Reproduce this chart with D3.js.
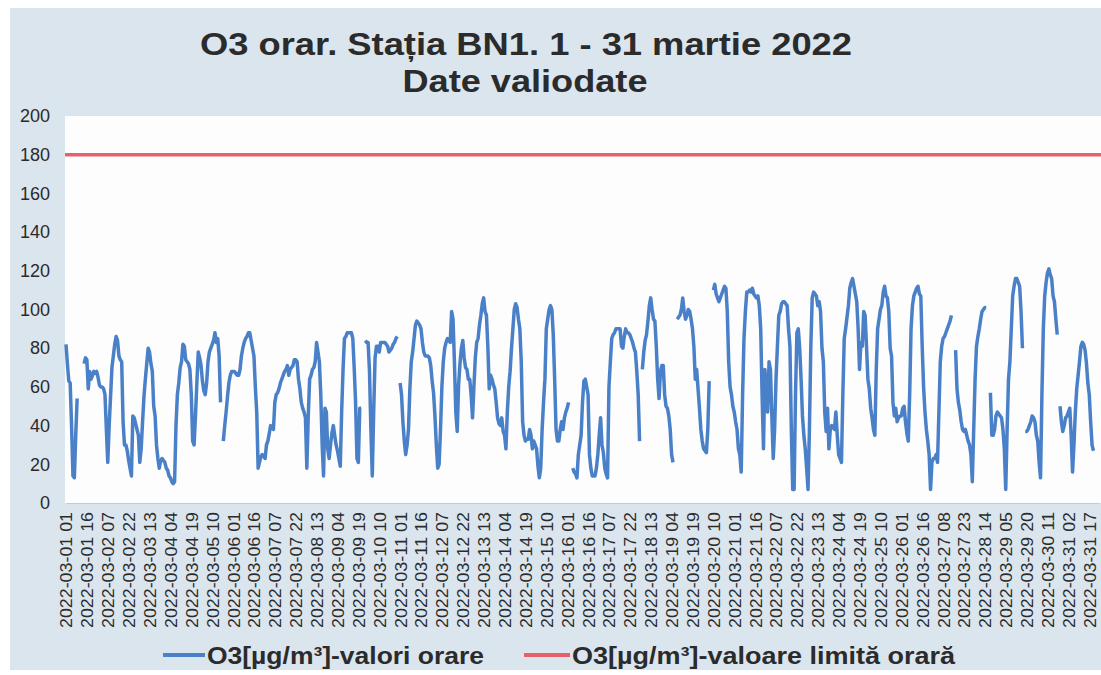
<!DOCTYPE html>
<html>
<head>
<meta charset="utf-8">
<script src="https://cdn.jsdelivr.net/npm/d3@7"></script>
<style>
  body { margin: 0; background: #fff; }
  svg { display: block; font-family: "Liberation Sans", Arial, sans-serif; }
</style>
</head>
<body>
<svg width="1101" height="675"></svg>
<script>
// hourly O3 values, one row per day (27 March has 23 hours, DST)
var day01 = [82,72,63,62,40,14,13,35,54,null,null,null,null,72,75,74,59,68,64,66,68,67,68,65];
var day02 = [61,60,60,59,56,38,21,40,55,70,76,82,86,84,76,74,73,42,30,30,27,22,18,14];
var day03 = [45,44,41,38,35,21,28,42,55,64,72,80,78,72,68,50,45,30,23,18,22,23,22,21];
var day04 = [18,17,14,13,11,10,11,40,56,62,70,73,82,81,74,73,72,69,56,32,30,45,62,78];
var day05 = [75,71,63,58,56,62,73,78,80,82,84,88,83,85,76,52,null,32,40,47,55,62,66,68];
var day06 = [68,68,67,66,66,69,76,80,83,85,86,88,88,84,80,76,60,47,18,21,24,25,24,23];
var day07 = [30,32,36,40,39,38,52,56,57,59,62,64,66,68,69,71,66,69,70,71,74,74,73,64];
var day08 = [59,52,49,47,44,18,45,64,66,69,70,73,83,78,73,56,30,14,49,47,28,23,30,36];
var day09 = [40,35,30,27,23,19,47,69,85,86,88,88,88,88,85,70,52,23,21,49,49,null,null,84];
var day10 = [83,83,68,38,14,47,75,81,81,78,83,83,83,83,82,81,78,79,80,82,83,85,86,null];
var day11 = [62,56,42,32,25,30,38,59,73,78,85,92,94,93,92,90,83,78,76,76,76,75,71,63];
var day12 = [57,45,30,18,20,38,60,73,80,83,85,84,83,99,95,73,47,37,61,72,80,84,75,70];
var day13 = [69,64,64,56,44,60,75,83,85,92,97,103,106,99,97,81,59,66,64,61,59,52,44,41];
var day14 = [40,44,37,35,28,47,60,68,80,90,100,103,101,95,90,73,42,35,32,33,33,38,35,28];
var day15 = [32,30,28,19,13,18,38,52,64,90,95,100,102,100,87,64,38,32,32,38,42,38,44,47];
var day16 = [49,52,null,null,18,16,15,13,25,30,35,52,63,64,60,56,25,18,14,14,14,18,25,35];
var day17 = [44,30,26,18,15,13,60,73,85,87,88,90,90,90,90,81,80,86,90,88,88,87,85,83];
var day18 = [80,78,68,56,32,null,69,78,84,87,94,102,106,100,95,94,81,64,54,68,71,71,56,50];
var day19 = [49,45,38,25,21,null,null,95,96,97,100,106,99,95,97,100,99,95,90,81,64,69,59,49];
var day20 = [38,32,28,27,26,38,63,null,null,110,113,108,106,104,106,108,110,112,111,99,73,60,56,50];
var day21 = [47,42,38,28,25,16,56,85,99,109,109,110,109,111,108,107,106,107,102,90,56,28,69,59];
var day22 = [47,73,69,45,23,38,64,81,97,99,103,104,104,103,102,90,81,38,7,7,56,88,90,80];
var day23 = [64,45,35,28,18,7,38,81,106,109,108,107,102,104,99,80,73,47,37,49,28,38,40,39];
var day24 = [38,47,35,25,23,21,56,85,90,96,102,111,114,116,112,108,104,90,69,83,81,99,97,81];
var day25 = [64,59,49,44,38,35,69,90,95,100,102,109,112,107,106,99,80,76,52,45,49,42,44,45];
var day26 = [45,49,50,42,36,32,56,90,102,107,109,111,112,108,107,81,60,47,38,32,25,7,21,23];
var day27 = [23,25,21,47,73,81,85,86,88,90,92,94,97,null,null,79,59,52,48,42,38,37,38];
var day28 = [35,32,30,25,11,38,64,81,86,90,95,99,100,101,101,null,null,57,35,35,38,45,47,46];
var day29 = [45,44,38,28,7,38,64,73,90,107,112,116,116,114,112,99,80,null,37,37,38,40,42,45];
var day30 = [44,42,35,32,21,13,56,90,107,114,119,121,118,116,107,104,95,87,null,50,42,37,40,44];
var day31 = [45,47,49,35,16,30,47,59,66,73,81,83,82,79,72,62,56,42,30,27,null,null,null,null];

var days = [day01,day02,day03,day04,day05,day06,day07,day08,day09,day10,day11,day12,day13,day14,day15,day16,
            day17,day18,day19,day20,day21,day22,day23,day24,day25,day26,day27,day28,day29,day30,day31];

var limitValue = 180;
var yTicks = [0,20,40,60,80,100,120,140,160,180,200];

var tickLabels = [
  "2022-03-01 01","2022-03-01 16","2022-03-02 07","2022-03-02 22","2022-03-03 13","2022-03-04 04",
  "2022-03-04 19","2022-03-05 10","2022-03-06 01","2022-03-06 16","2022-03-07 07","2022-03-07 22",
  "2022-03-08 13","2022-03-09 04","2022-03-09 19","2022-03-10 10","2022-03-11 01","2022-03-11 16",
  "2022-03-12 07","2022-03-12 22","2022-03-13 13","2022-03-14 04","2022-03-14 19","2022-03-15 10",
  "2022-03-16 01","2022-03-16 16","2022-03-17 07","2022-03-17 22","2022-03-18 13","2022-03-19 04",
  "2022-03-19 19","2022-03-20 10","2022-03-21 01","2022-03-21 16","2022-03-22 07","2022-03-22 22",
  "2022-03-23 13","2022-03-24 04","2022-03-24 19","2022-03-25 10","2022-03-26 01","2022-03-26 16",
  "2022-03-27 08","2022-03-27 23","2022-03-28 14","2022-03-29 05","2022-03-29 20","2022-03-30 11",
  "2022-03-31 02","2022-03-31 17"
];

var titleLine1 = "O3 orar. Stația BN1. 1 - 31 martie 2022";
var titleLine2 = "Date valiodate";
var legendSeries = "O3[µg/m³]-valori orare";
var legendLimit = "O3[µg/m³]-valoare limită orară";

// build the hourly category list (hour 03 skipped on 27 March)
var categories = [];
var values = [];
days.forEach(function (arr, d) {
    var dd = (d + 1 < 10 ? "0" : "") + (d + 1);
    var h = 1;
    arr.forEach(function (v) {
        if (d + 1 == 27 && h == 3) h++;
        var hh = (h < 10 ? "0" : "") + h;
        categories.push("2022-03-" + dd + " " + hh);
        values.push(v);
        h++;
    });
});

var svg = d3.select("svg");

// scanned background
svg.append("rect").attr("x", 10).attr("y", 8).attr("width", 1091).attr("height", 662)
    .attr("fill", "#dbe5ee");

var plotLeft = 65, plotRight = 1101, plotTop = 116, plotBottom = 503;

svg.append("rect").attr("x", plotLeft).attr("y", plotTop)
    .attr("width", plotRight - plotLeft).attr("height", plotBottom - plotTop)
    .attr("fill", "#fdfdfd");

var x = d3.scalePoint().domain(categories).range([plotLeft + 1, 1099]);
var y = d3.scaleLinear().domain([0, 200]).range([plotBottom, plotTop]);

// title
var title = svg.append("g").attr("fill", "#2b2b2b").attr("font-weight", "bold")
    .attr("text-anchor", "middle");
title.append("text").attr("x", 526).attr("y", 55).attr("font-size", 31)
    .attr("textLength", 652).attr("lengthAdjust", "spacingAndGlyphs").text(titleLine1);
title.append("text").attr("x", 525).attr("y", 92).attr("font-size", 31)
    .attr("textLength", 245).attr("lengthAdjust", "spacingAndGlyphs").text(titleLine2);

// y axis
var yAxis = svg.append("g").attr("transform", "translate(" + plotLeft + ",0)")
    .call(d3.axisLeft(y).tickValues(yTicks).tickSize(0).tickPadding(15));
yAxis.select(".domain").remove();
yAxis.selectAll("text").attr("font-size", 18).attr("fill", "#2b2b2b")
    .attr("font-family", "Liberation Sans, Arial, sans-serif");

// x axis
var xAxis = svg.append("g").attr("transform", "translate(0," + plotBottom + ")")
    .call(d3.axisBottom(x).tickValues(tickLabels).tickSize(0));
xAxis.select(".domain").attr("stroke", "#c9c9c9");
xAxis.selectAll("text")
    .attr("font-size", 17).attr("fill", "#2b2b2b")
    .attr("font-family", "Liberation Sans, Arial, sans-serif")
    .attr("text-anchor", "end")
    .attr("transform", "rotate(-90)")
    .attr("x", -9).attr("y", 0).attr("dy", "0.35em")
    .attr("textLength", 116).attr("lengthAdjust", "spacingAndGlyphs");

// limit line
svg.append("line")
    .attr("x1", plotLeft).attr("x2", plotRight)
    .attr("y1", y(limitValue)).attr("y2", y(limitValue))
    .attr("stroke", "#e8606a").attr("stroke-width", 3.5);

// hourly values
var line = d3.line()
    .defined(function (d) { return d != null; })
    .x(function (d, i) { return x(categories[i]); })
    .y(function (d) { return y(d); });

svg.append("path")
    .datum(values)
    .attr("d", line)
    .attr("fill", "none")
    .attr("stroke", "#4a80c8")
    .attr("stroke-width", 3.5)
    .attr("stroke-linejoin", "round");

// legend
var legend = svg.append("g").attr("font-size", 24).attr("font-weight", "bold").attr("fill", "#2b2b2b");
legend.append("line").attr("x1", 163).attr("x2", 205).attr("y1", 655).attr("y2", 655)
    .attr("stroke", "#4a80c8").attr("stroke-width", 4);
legend.append("text").attr("x", 207).attr("y", 664)
    .attr("textLength", 277).attr("lengthAdjust", "spacingAndGlyphs").text(legendSeries);
legend.append("line").attr("x1", 524).attr("x2", 570).attr("y1", 655).attr("y2", 655)
    .attr("stroke", "#e8606a").attr("stroke-width", 4);
legend.append("text").attr("x", 572).attr("y", 664)
    .attr("textLength", 383).attr("lengthAdjust", "spacingAndGlyphs").text(legendLimit);
</script>
</body>
</html>
